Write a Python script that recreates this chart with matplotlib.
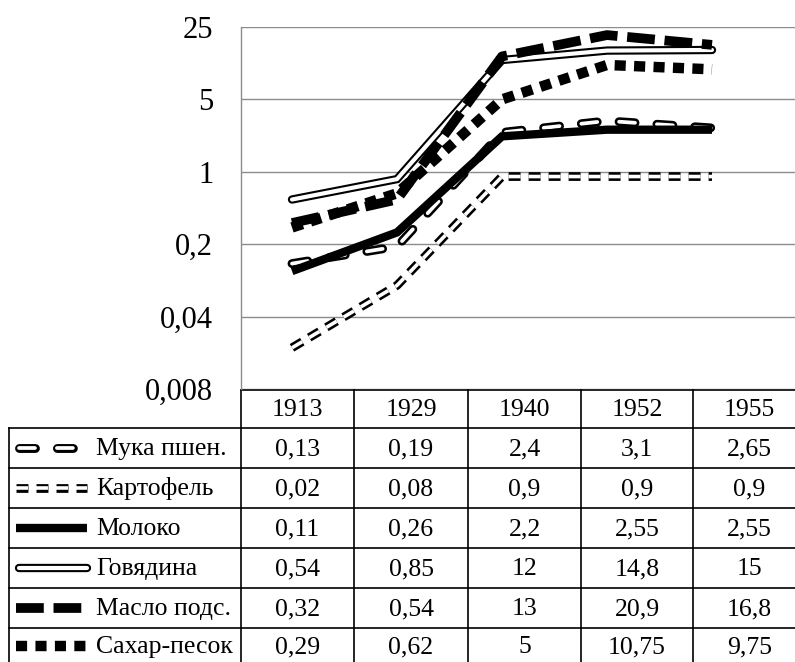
import matplotlib
matplotlib.use("Agg")
import matplotlib.pyplot as plt

# --- Data ---
years = ["1913", "1929", "1940", "1952", "1955"]
names = ["Мука пшен.", "Картофель", "Молоко", "Говядина", "Масло подс.", "Сахар-песок"]
muka = [0.13, 0.19, 2.4, 3.1, 2.65]
kartofel = [0.02, 0.08, 0.9, 0.9, 0.9]
moloko = [0.11, 0.26, 2.2, 2.55, 2.55]
govyadina = [0.54, 0.85, 12, 14.8, 15]
maslo = [0.32, 0.54, 13, 20.9, 16.8]
sahar = [0.29, 0.62, 5, 10.75, 9.75]
series = [muka, kartofel, moloko, govyadina, maslo, sahar]

y_ticks = [0.008, 0.04, 0.2, 1, 5, 25]
y_tick_labels = ["0,008", "0,04", "0,2", "1", "5", "25"]

# --- Line styles (layers drawn one on top of another) ---
plt.rcParams['lines.scale_dashes'] = False
plt.rcParams['font.family'] = ['Liberation Serif', 'DejaVu Serif']

styles = [
    # Мука: outlined rounded dashes
    [dict(color='black', lw=6.4, dashes=(11.5, 15.8), cap='round'),
     dict(color='white', lw=2.7, dashes=(11.5, 15.8), cap='round')],
    # Картофель: double thin dashes
    [dict(color='black', lw=6.3, dashes=(8.6, 5.8), cap='butt'),
     dict(color='white', lw=2.6, dashes=(8.6, 5.8), cap='butt')],
    # Молоко: thick solid
    [dict(color='black', lw=6.0, dashes=None, cap='butt')],
    # Говядина: outlined solid
    [dict(color='black', lw=6.0, dashes=None, cap='round'),
     dict(color='white', lw=3.0, dashes=None, cap='round')],
    # Масло: thick dashes
    [dict(color='black', lw=7.0, dashes=(20, 7), cap='butt')],
    # Сахар: square dots
    [dict(color='black', lw=7.5, dashes=(8, 6), cap='butt')],
]


def draw(ax, x, y, layers):
    for st in layers:
        kw = dict(color=st['color'], lw=st['lw'], solid_capstyle=st['cap'],
                  dash_capstyle=st['cap'], solid_joinstyle='miter')
        if st['dashes'] is not None:
            kw['dashes'] = st['dashes']
        ax.plot(x, y, **kw)


W, H = 795, 662
fig = plt.figure(figsize=(W / 100, H / 100), dpi=100)

# --- Chart area (pixel layout) ---
ax_l, ax_r, ax_t, ax_b = 241, 806, 27, 389
ax = fig.add_axes([ax_l / W, 1 - ax_b / H, (ax_r - ax_l) / W, (ax_b - ax_t) / H])
ax.set_yscale('log', base=5)
ax.set_ylim(0.008, 25)
step = 105.0
x0 = -(292 - ax_l) / step
ax.set_xlim(x0, x0 + (ax_r - ax_l) / step)
ax.set_yticks(y_ticks)
ax.set_yticklabels(y_tick_labels)
ax.minorticks_off()
ax.set_xticks([])
ax.tick_params(axis='y', length=0, pad=20, labelsize=22)
ax.grid(axis='y', color='#8c8c8c', lw=1.0)
ax.set_axisbelow(True)
for s in ['top', 'right', 'bottom']:
    ax.spines[s].set_visible(False)
ax.spines['left'].set_color('#8c8c8c')
ax.spines['left'].set_linewidth(1.0)

xs = list(range(len(years)))
for vals, st in zip(series, styles):
    draw(ax, xs, vals, st)

# --- Data table below the chart (pixel coordinates) ---
tb = fig.add_axes([0, 0, 1, 1], zorder=-1)
tb.set_xlim(0, W)
tb.set_ylim(H, 0)
tb.axis('off')

col_edges = [241, 354, 468, 581, 693, 806]
row_edges = [390, 428, 468, 508, 548, 588, 628, 668]
tl = dict(color='black', lw=1.2)
tb.plot([241, W], [390, 390], **tl)
for yy in row_edges[1:-1]:
    tb.plot([9, W], [yy, yy], **tl)
tb.plot([9, 9], [428, H], **tl)
for xx in col_edges[:-1]:
    tb.plot([xx, xx], [390, H], **tl)

fs = 18.5
for j, yr in enumerate(years):
    cx = (col_edges[j] + col_edges[j + 1]) / 2
    tb.text(cx, (row_edges[0] + row_edges[1]) / 2 + 1, yr, ha='center', va='center', fontsize=fs)

for i, (name, vals, st) in enumerate(zip(names, series, styles)):
    cy = (row_edges[i + 1] + row_edges[i + 2]) / 2
    if i == len(names) - 1:
        cy = 646
    draw(tb, [16 if st[0]['cap'] == 'butt' else 19, 87], [cy, cy], st)
    tb.text(96, cy + 1, name, ha='left', va='center', fontsize=fs)
    for j, v in enumerate(vals):
        cx = (col_edges[j] + col_edges[j + 1]) / 2
        tb.text(cx, cy + 1, f"{v:g}".replace('.', ','), ha='center', va='center', fontsize=fs)

fig.savefig("out.png", dpi=100)
